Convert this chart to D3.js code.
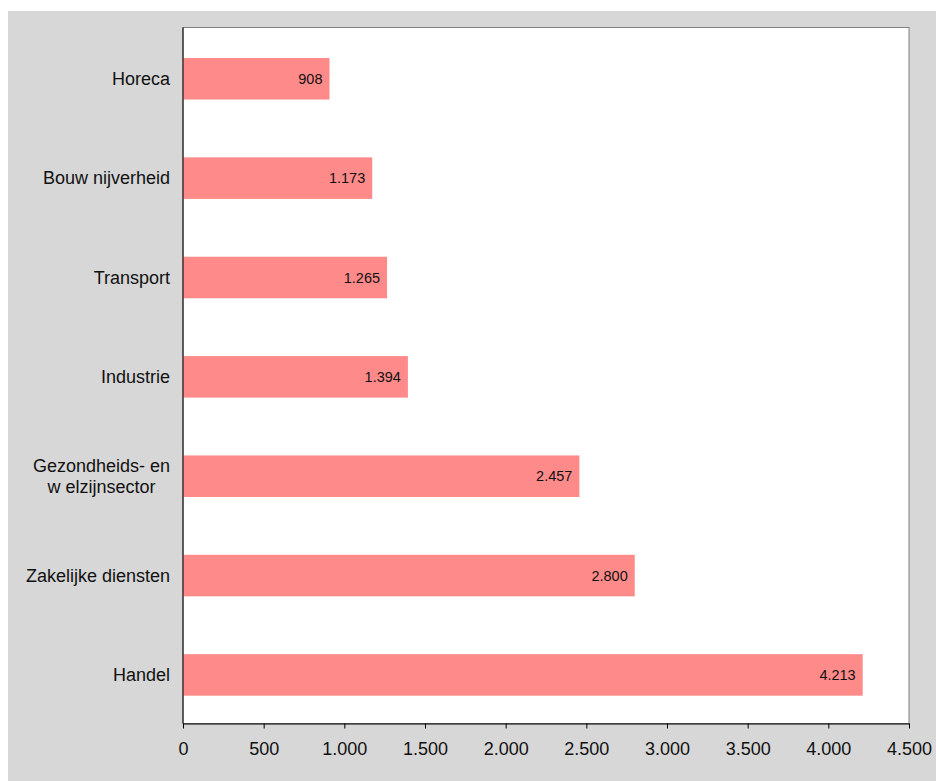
<!DOCTYPE html>
<html><head><meta charset="utf-8">
<script src="https://cdn.jsdelivr.net/npm/d3@7"></script>
<style>
html,body{margin:0;padding:0;background:#fff;}
svg{display:block;font-family:"Liberation Sans",Arial,Helvetica,sans-serif;}
</style></head>
<body>
<svg id="c" width="936" height="781"></svg>
<script>
const categories = ["Horeca", "Bouw nijverheid", "Transport", "Industrie", "Gezondheids- en|w elzijnsector", "Zakelijke diensten", "Handel"];
const values = [908, 1173, 1265, 1394, 2457, 2800, 4213];
const valueLabels = ["908", "1.173", "1.265", "1.394", "2.457", "2.800", "4.213"];
const tickValues = [0, 500, 1000, 1500, 2000, 2500, 3000, 3500, 4000, 4500];
const tickLabels = ["0", "500", "1.000", "1.500", "2.000", "2.500", "3.000", "3.500", "4.000", "4.500"];

(function() {
const svg = d3.select("#c");
svg.append("rect").attr("x", 8).attr("y", 11).attr("width", 928).attr("height", 770).attr("fill", "#d7d7d7");

const pL = 183, pR = 909, pT = 27.5, pB = 723.5;
svg.append("rect").attr("x", pL).attr("y", pT).attr("width", pR - pL).attr("height", pB - pT)
  .attr("fill", "#fff").attr("stroke", "#808080").attr("stroke-width", 1);

const x = d3.scaleLinear().domain([0, 4500]).range([pL, pR]);
const y = d3.scaleBand().domain(categories).range([58, 695.7]).paddingInner(0.582).paddingOuter(0);

svg.selectAll("rect.bar").data(categories).enter().append("rect").attr("class", "bar")
  .attr("x", x(0)).attr("y", d => y(d))
  .attr("width", (d, i) => x(values[i]) - x(0)).attr("height", y.bandwidth())
  .attr("fill", "#ff8a8a");

svg.selectAll("text.val").data(categories).enter().append("text").attr("class", "val")
  .attr("x", (d, i) => x(values[i]) - 7).attr("y", d => y(d) + y.bandwidth() / 2)
  .attr("dy", "0.35em").attr("text-anchor", "end").attr("font-size", 14.5).attr("fill", "#111")
  .text((d, i) => valueLabels[i]);

const cat = svg.selectAll("text.cat").data(categories).enter().append("text").attr("class", "cat")
  .attr("text-anchor", "end").attr("font-size", 18).attr("fill", "#111");
cat.each(function(d) {
  const lines = d.split("|");
  const t = d3.select(this);
  const cy = y(d) + y.bandwidth() / 2;
  const lh = 21;
  lines.forEach((ln, k) => {
    t.append("tspan").attr("x", 170).attr("y", cy + (k - (lines.length - 1) / 2) * lh).attr("dy", "0.35em").text(ln);
  });
  if (lines.length > 1) {
    const bb = this.getBBox();
    t.attr("text-anchor", "middle");
    t.selectAll("tspan").attr("x", 170 - bb.width / 2);
  }
});

const ax = svg.append("g").attr("transform", `translate(0,${pB})`)
  .call(d3.axisBottom(x).tickValues(tickValues).tickFormat((d, i) => tickLabels[i]).tickSize(5).tickSizeOuter(0));
ax.select(".domain").attr("stroke", "#000");
ax.selectAll(".tick line").attr("stroke", "#000");
ax.selectAll(".tick text").attr("font-size", 18).attr("fill", "#111").attr("dy", "1.3em")
  .attr("font-family", "\"Liberation Sans\",Arial,sans-serif");
svg.append("line").attr("x1", pL).attr("x2", pL).attr("y1", pT).attr("y2", pB).attr("stroke", "#000");
})();
</script>
</body></html>
